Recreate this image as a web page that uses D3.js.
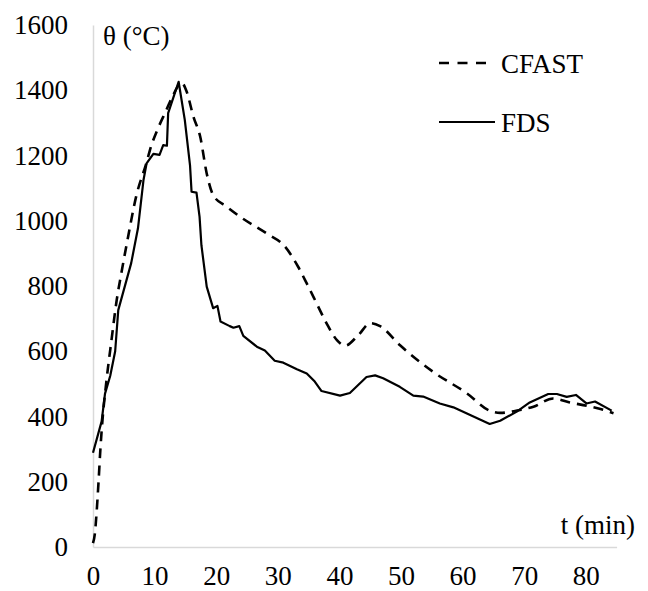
<!DOCTYPE html>
<html>
<head>
<meta charset="utf-8">
<script src="https://cdn.jsdelivr.net/npm/d3@7"></script>
</head>
<body style="margin:0">
<svg id="chart" width="648" height="591" font-family="Liberation Serif" style="font-family: 'Liberation Serif'; display:block"></svg>
<script>
// ---- data ----
const seriesNames = ["CFAST", "FDS"];
const xTicks = [0, 10, 20, 30, 40, 50, 60, 70, 80];
const yTicks = [0, 200, 400, 600, 800, 1000, 1200, 1400, 1600];

const cfastT = [0, 0.3, 0.6, 0.9, 1.2, 1.5, 2.2, 3.0, 3.85, 4.6, 5.7, 7.0, 8.65, 9.5, 10.55, 11.9, 13.0, 14.4, 15.2, 16.3, 17.4, 18.46, 19.5, 21.7, 23.9, 28.2, 31.2, 33.3, 34.7, 36.3, 37.9, 39.6, 40.9, 43.1, 45.0, 46.6, 49.8, 55.2, 60.7, 64.4, 66.1, 69.3, 71.5, 74.7, 77.4, 80.4, 83.4, 84.5];
const cfastV = [12, 40, 110, 200, 300, 380, 512, 634, 757, 839, 951, 1074, 1176, 1232, 1283, 1339, 1385, 1423, 1396, 1319, 1258, 1145, 1079, 1043, 1012, 961, 920, 859, 808, 747, 686, 634, 617, 650, 686, 677, 619, 537, 471, 418, 411, 420, 430, 455, 443, 432, 417, 410];

const fdsT = [0, 1.4, 1.95, 2.8, 3.6, 4.1, 6.2, 7.3, 8.2, 8.7, 9.8, 10.8, 11.4, 12.0, 12.2, 13.0, 13.9, 14.9, 15.75, 16.0, 16.8, 17.3, 17.6, 18.46, 19.5, 20.2, 20.7, 22.2, 22.8, 23.75, 24.4, 26.6, 27.9, 29.5, 30.9, 33.1, 34.7, 36.0, 37.1, 40.1, 41.7, 44.4, 45.8, 47.1, 49.8, 52.0, 53.6, 56.3, 58.5, 64.4, 66.1, 68.8, 70.9, 73.9, 75.3, 76.9, 78.4, 80.1, 81.5, 84.2];
const fdsV = [289, 385, 470, 525, 600, 726, 870, 977, 1125, 1176, 1205, 1202, 1232, 1230, 1330, 1375, 1426, 1309, 1170, 1089, 1086, 1012, 925, 798, 732, 739, 691, 677, 672, 677, 647, 614, 602, 571, 565, 545, 532, 507, 478, 464, 472, 521, 526, 517, 491, 464, 461, 440, 428, 377, 387, 415, 443, 469, 469, 460, 466, 440, 446, 418];

// ---- chart ----
const FONT = "Liberation Serif";
const svg = d3.select("#chart");
const x = d3.scaleLinear().domain([0, 85]).range([93, 616.6]);
const y = d3.scaleLinear().domain([0, 1600]).range([547, 25]);

function styleText(sel) {
  return sel.attr("font-family", FONT).attr("font-size", 27)
    .style("font-family", FONT).style("font-size", "27px").attr("fill", "#000");
}

const yAxis = d3.axisLeft(y).tickValues(yTicks).tickSize(0).tickPadding(25).tickFormat(d3.format("d"));
const xAxis = d3.axisBottom(x).tickValues(xTicks).tickSize(0).tickSizeOuter(0).tickPadding(19).tickFormat(d3.format("d"));

const gy = svg.append("g").attr("transform", `translate(${x(0)},0)`).call(yAxis);
const gx = svg.append("g").attr("transform", `translate(0,${y(0)})`).call(xAxis);
[gx, gy].forEach(g => {
  g.attr("font-family", FONT).attr("font-size", 27);
  g.select(".domain").attr("stroke", "#d9d9d9").attr("stroke-width", 1.5);
  styleText(g.selectAll("text"));
});

// axis titles
styleText(svg.append("text").attr("x", 103).attr("y", 45)).text("θ (°C)");
styleText(svg.append("text").attr("x", 635).attr("y", 534)).attr("text-anchor", "end").text("t (min)");

// lines
const cfast = cfastT.map((t, i) => [t, cfastV[i]]);
const fds = fdsT.map((t, i) => [t, fdsV[i]]);

const smooth = d3.line().x(d => x(d[0])).y(d => y(d[1])).curve(d3.curveMonotoneX);
const straight = d3.line().x(d => x(d[0])).y(d => y(d[1]));

svg.append("path").datum(cfast).attr("d", smooth)
  .attr("fill", "none").attr("stroke", "#000").attr("stroke-width", 2.6)
  .attr("stroke-dasharray", "10,7");
svg.append("path").datum(fds).attr("d", straight)
  .attr("fill", "none").attr("stroke", "#000").attr("stroke-width", 2.2)
  .attr("stroke-linejoin", "round");

// legend
const legend = svg.append("g");
const legendItems = [
  { name: seriesNames[0], y: 63, x2: 486, dash: "10,8.5", w: 2.6 },
  { name: seriesNames[1], y: 122, x2: 495, dash: null, w: 2.2 }
];
legendItems.forEach(it => {
  legend.append("line").attr("x1", 439).attr("x2", it.x2).attr("y1", it.y).attr("y2", it.y)
    .attr("stroke", "#000").attr("stroke-width", it.w)
    .attr("stroke-dasharray", it.dash);
  styleText(legend.append("text").attr("x", 501).attr("y", it.y + 9.5)).text(it.name);
});
</script>
</body>
</html>
